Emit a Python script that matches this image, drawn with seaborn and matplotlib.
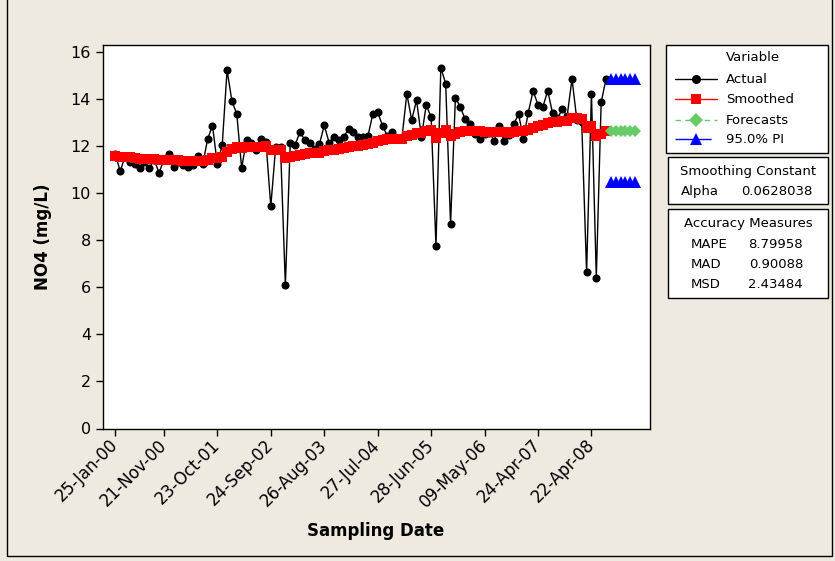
import numpy as np
import pandas as pd
import matplotlib
matplotlib.use("Agg")
import matplotlib.pyplot as plt
import seaborn as sns
from matplotlib.patches import Rectangle
from matplotlib.lines import Line2D

# ---------------- data ----------------
actual = [11.64, 10.92, 11.55, 11.33, 11.21, 11.05, 11.33, 11.05, 11.40, 10.86,
          11.40, 11.64, 11.09, 11.33, 11.19, 11.09, 11.19, 11.57, 11.21, 12.29,
          12.86, 11.21, 12.03, 15.21, 13.90, 13.35, 11.05, 12.25, 12.10, 11.82,
          12.30, 12.18, 9.43, 11.94, 11.96, 6.08, 12.10, 12.05, 12.57, 12.26,
          12.12, 11.86, 12.06, 12.87, 12.14, 12.36, 12.25, 12.36, 12.72, 12.58,
          12.36, 12.36, 12.42, 13.35, 13.42, 12.86, 12.40, 12.60, 12.35, 12.35,
          14.21, 13.10, 13.93, 12.39, 13.73, 13.21, 7.76, 15.32, 14.64, 8.68,
          14.05, 13.65, 13.13, 12.93, 12.50, 12.27, 12.50, 12.55, 12.22, 12.86,
          12.22, 12.45, 12.91, 13.35, 12.29, 13.41, 14.34, 13.73, 13.65, 14.34,
          13.38, 13.17, 13.55, 13.27, 14.84, 13.10, 13.00, 6.64, 14.22, 6.40,
          13.84, 14.84]

smoothed = [11.56, 11.52, 11.52, 11.51, 11.49, 11.46, 11.45, 11.43, 11.43, 11.39,
            11.39, 11.41, 11.39, 11.38, 11.37, 11.35, 11.34, 11.36, 11.35, 11.41,
            11.50, 11.48, 11.52, 11.75, 11.88, 11.97, 11.92, 11.94, 11.95, 11.94,
            11.96, 11.98, 11.82, 11.82, 11.83, 11.47, 11.51, 11.55, 11.61, 11.65,
            11.68, 11.69, 11.71, 11.79, 11.81, 11.84, 11.87, 11.90, 11.95, 11.99,
            12.01, 12.04, 12.06, 12.14, 12.22, 12.26, 12.27, 12.29, 12.29, 12.30,
            12.42, 12.46, 12.55, 12.54, 12.62, 12.66, 12.35, 12.53, 12.67, 12.42,
            12.52, 12.59, 12.62, 12.64, 12.63, 12.61, 12.60, 12.60, 12.58, 12.60,
            12.57, 12.56, 12.59, 12.63, 12.61, 12.66, 12.77, 12.83, 12.88, 12.97,
            13.00, 13.01, 13.04, 13.06, 13.17, 13.16, 13.15, 12.75, 12.84, 12.43,
            12.52, 12.63]

forecast = [12.64, 12.64, 12.64, 12.64, 12.64, 12.64]
pi_upper = [14.84, 14.84, 14.84, 14.84, 14.84, 14.84]
pi_lower = [10.45, 10.45, 10.45, 10.45, 10.45, 10.45]

tick_obs = [1, 11, 22, 33, 44, 55, 66, 77, 88, 99]
tick_labels = ["25-Jan-00", "21-Nov-00", "23-Oct-01", "24-Sep-02", "26-Aug-03",
               "27-Jul-04", "28-Jun-05", "09-May-06", "24-Apr-07", "22-Apr-08"]
y_ticks = [0, 2, 4, 6, 8, 10, 12, 14, 16]

legend_names = ["Actual", "Smoothed", "Forecasts", "95.0% PI"]
alpha_text = "0.0628038"
measure_names = ["MAPE", "MAD", "MSD"]
measure_values = ["8.79958", "0.90088", "2.43484"]

# ---------------- frames ----------------
n = len(actual)
df_act = pd.DataFrame({"obs": np.arange(1, n + 1), "value": actual})
df_sm = pd.DataFrame({"obs": np.arange(1, n + 1), "value": smoothed})
fobs = np.arange(n + 1, n + 1 + len(forecast))
df_fc = pd.DataFrame({"obs": fobs, "value": forecast})
df_up = pd.DataFrame({"obs": fobs, "value": pi_upper})
df_lo = pd.DataFrame({"obs": fobs, "value": pi_lower})

# ---------------- style ----------------
sns.set_style("ticks")
plt.rcParams["font.family"] = ["DejaVu Sans"]
plt.rcParams["text.color"] = "black"
plt.rcParams["axes.labelcolor"] = "black"
plt.rcParams["xtick.color"] = "black"
plt.rcParams["ytick.color"] = "black"
BG = "#EEEAE0"
W, H = 835, 561
fig = plt.figure(figsize=(W / 100, H / 100), dpi=100, facecolor=BG)

def fx(x):
    return x / W

def fy(y):
    return 1 - y / H

L, R, T, B = 102.7, 649.5, 45.0, 428.5
ax = fig.add_axes([fx(L), fy(B), fx(R) - fx(L), fy(T) - fy(B)])
ax.set_facecolor("white")

GREEN = "#66CC66"
sns.lineplot(data=df_act, x="obs", y="value", ax=ax, color="black", linewidth=1,
             marker="o", markersize=5.8, markeredgewidth=0, zorder=3)
sns.lineplot(data=df_sm, x="obs", y="value", ax=ax, color="#FF0000", linewidth=1,
             marker="s", markersize=7, markeredgewidth=0, zorder=4)
sns.lineplot(data=df_fc, x="obs", y="value", ax=ax, color=GREEN, linewidth=1,
             linestyle="--", marker="D", markersize=6.5, markeredgewidth=0, zorder=4)
sns.lineplot(data=df_up, x="obs", y="value", ax=ax, color="#0000FF", linewidth=1,
             marker="^", markersize=8, markeredgewidth=0, zorder=4)
sns.lineplot(data=df_lo, x="obs", y="value", ax=ax, color="#0000FF", linewidth=1,
             marker="^", markersize=8, markeredgewidth=0, zorder=4)

ax.set_xlim(-1.6, 110.95)
ax.set_ylim(0, 16.28)
ax.set_yticks(y_ticks)
ax.set_yticklabels([str(v) for v in y_ticks])
ax.set_xticks(tick_obs)
ax.set_xticklabels(tick_labels, rotation=45, ha="right", va="center",
                   rotation_mode="anchor")
ax.tick_params(axis="both", direction="out", length=5, width=1, color="black",
               labelsize=11.5, labelcolor="black")
ax.tick_params(axis="x", pad=5, labelsize=12)
for s in ax.spines.values():
    s.set_visible(True)
    s.set_color("black")
    s.set_linewidth(1)
ax.set_xlabel("")
ax.set_ylabel("")

fig.text(fx(376), fy(531), "Sampling Date", ha="center", va="center",
         fontsize=12, fontweight="bold", color="black")
fig.text(fx(43), fy(237), "NO4 (mg/L)", ha="center", va="center",
         fontsize=12, fontweight="bold", rotation=90, color="black")

# outer frame
fig.patches.append(Rectangle((fx(7), fy(556)), fx(832) - fx(7), fy(-10) - fy(556),
                             transform=fig.transFigure, fill=False,
                             edgecolor="black", linewidth=1))

# ---------------- Minitab-style legend boxes ----------------
def box(x0, y0, x1, y1):
    fig.patches.append(Rectangle((fx(x0), fy(y1)), fx(x1) - fx(x0), fy(y0) - fy(y1),
                                 transform=fig.transFigure, facecolor="white",
                                 edgecolor="black", linewidth=1, zorder=1))

box(666, 45, 828, 153)
box(668, 157, 828, 204)
box(668, 209, 828, 298)

FS = 9.5
fig.text(fx(726), fy(57.5), "Variable", ha="left", va="center", fontsize=FS, color="black")
styles = [
    dict(color="black", marker="o", ls="-", ms=6.5),
    dict(color="#FF0000", marker="s", ls="-", ms=7),
    dict(color=GREEN, marker="D", ls=(0, (4, 3)), ms=7),
    dict(color="#0000FF", marker="^", ls=(0, (26, 8)), ms=8),
]
rows_y = [79.3, 99.3, 120, 139.3]
for name, st, yy in zip(legend_names, styles, rows_y):
    fig.lines.append(Line2D([fx(675), fx(717)], [fy(yy), fy(yy)],
                            transform=fig.transFigure, color=st["color"],
                            linestyle=st["ls"], linewidth=1, zorder=5))
    fig.lines.append(Line2D([fx(696)], [fy(yy)], transform=fig.transFigure,
                            color=st["color"], marker=st["marker"],
                            markersize=st["ms"], markeredgewidth=0,
                            linestyle="none", zorder=6))
    fig.text(fx(726), fy(yy), name, ha="left", va="center", fontsize=FS, color="black")

fig.text(fx(748), fy(171), "Smoothing Constant", ha="center", va="center", fontsize=FS, color="black")
fig.text(fx(681), fy(191.5), "Alpha", ha="left", va="center", fontsize=FS, color="black")
fig.text(fx(812), fy(191.5), alpha_text, ha="right", va="center", fontsize=FS, color="black")

fig.text(fx(748), fy(223), "Accuracy Measures", ha="center", va="center", fontsize=FS, color="black")
for name, val, yy in zip(measure_names, measure_values, [244, 264.5, 285]):
    fig.text(fx(691), fy(yy), name, ha="left", va="center", fontsize=FS, color="black")
    fig.text(fx(803), fy(yy), val, ha="right", va="center", fontsize=FS, color="black")

fig.savefig("out.png", dpi=100, facecolor=BG)
